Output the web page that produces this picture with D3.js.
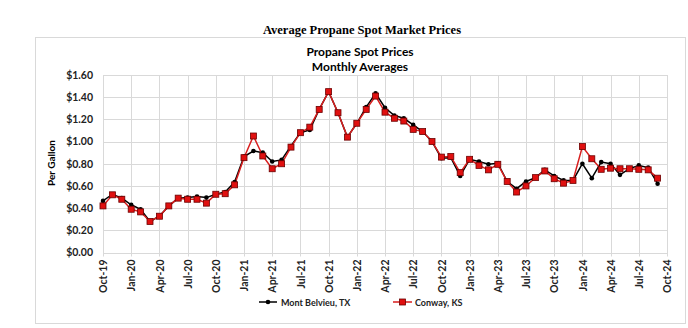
<!DOCTYPE html>
<html>
<head>
<meta charset="utf-8">
<script src="https://cdn.jsdelivr.net/npm/d3@7"></script>
<style>
  html, body { margin: 0; padding: 0; background: #fff; }
  svg { display: block; }
</style>
</head>
<body>
<svg id="chart" width="688" height="328"></svg>
<script>
// monthly averages, Oct-19 .. Sep-24 ($ per gallon)
const belvieu = [
  0.465, 0.525, 0.49, 0.43, 0.39, 0.28, 0.327, 0.42, 0.49, 0.495, 0.505, 0.495,
  0.525, 0.545, 0.635, 0.865, 0.915, 0.90, 0.82, 0.835, 0.96, 1.08, 1.105, 1.29,
  1.45, 1.26, 1.04, 1.165, 1.31, 1.435, 1.305, 1.235, 1.21, 1.15, 1.09, 1.0,
  0.85, 0.855, 0.69, 0.84, 0.82, 0.795, 0.805, 0.64, 0.575, 0.64, 0.675, 0.745,
  0.69, 0.65, 0.65, 0.80, 0.67, 0.815, 0.80, 0.70, 0.755, 0.785, 0.765, 0.62
];
const conway = [
  0.42, 0.52, 0.48, 0.39, 0.366, 0.28, 0.327, 0.42, 0.49, 0.48, 0.48, 0.445,
  0.525, 0.53, 0.61, 0.855, 1.05, 0.87, 0.755, 0.80, 0.95, 1.08, 1.13, 1.29,
  1.45, 1.26, 1.04, 1.165, 1.29, 1.41, 1.265, 1.21, 1.185, 1.11, 1.09, 1.0,
  0.86, 0.865, 0.72, 0.84, 0.785, 0.745, 0.795, 0.64, 0.545, 0.60, 0.675, 0.735,
  0.665, 0.625, 0.65, 0.955, 0.845, 0.75, 0.76, 0.755, 0.755, 0.75, 0.745, 0.67
];
const tickLabels = ["Oct-19", "Jan-20", "Apr-20", "Jul-20", "Oct-20", "Jan-21", "Apr-21",
  "Jul-21", "Oct-21", "Jan-22", "Apr-22", "Jul-22", "Oct-22", "Jan-23", "Apr-23",
  "Jul-23", "Oct-23", "Jan-24", "Apr-24", "Jul-24", "Oct-24"];
const yTicks = [0, 0.2, 0.4, 0.6, 0.8, 1.0, 1.2, 1.4, 1.6];

const svg = d3.select("#chart");
const font = "Lato, 'Open Sans', sans-serif";

const x = d3.scaleLinear().domain([0, 60]).range([103, 667]);
const y = d3.scaleLinear().domain([0, 1.6]).range([252.5, 75]);

// page title
svg.append("text")
  .attr("x", 362).attr("y", 34)
  .attr("text-anchor", "middle")
  .style("font-family", "'Liberation Serif', 'DejaVu Serif', serif")
  .style("font-weight", "bold")
  .style("font-size", "12.5px")
  .text("Average Propane Spot Market Prices");

// chart frame
svg.append("rect")
  .attr("x", 35.5).attr("y", 37.5)
  .attr("width", 650).attr("height", 286)
  .attr("fill", "#fff")
  .attr("stroke", "#d9d9d9");

svg.append("text")
  .attr("x", 360).attr("y", 56)
  .attr("text-anchor", "middle")
  .style("font-family", font).style("font-weight", "bold").style("font-size", "12px")
  .text("Propane Spot Prices");
svg.append("text")
  .attr("x", 360).attr("y", 71)
  .attr("text-anchor", "middle")
  .style("font-family", font).style("font-weight", "bold").style("font-size", "12px")
  .text("Monthly Averages");

// gridlines
const grid = svg.append("g").attr("stroke", "#d9d9d9").attr("stroke-width", 1);
yTicks.forEach(v => {
  grid.append("line")
    .attr("x1", x(0)).attr("x2", x(60))
    .attr("y1", Math.round(y(v)) + 0.5).attr("y2", Math.round(y(v)) + 0.5);
});
tickLabels.forEach((t, i) => {
  const xx = Math.round(x(i * 3)) + 0.5;
  grid.append("line")
    .attr("x1", xx).attr("x2", xx)
    .attr("y1", y(1.6)).attr("y2", y(0) + 4);
});

// y axis
const yAxis = svg.append("g")
  .attr("transform", `translate(${x(0)},0)`)
  .call(d3.axisLeft(y).tickValues(yTicks).tickFormat(d3.format("$.2f")).tickSize(0).tickPadding(10));
yAxis.select(".domain").remove();
yAxis.selectAll("text")
  .style("font-family", font).style("font-weight", "bold").style("font-size", "10.5px")
  .attr("fill", "#222");

// x axis labels
const xAxis = svg.append("g")
  .attr("transform", `translate(0,${y(0)})`)
  .call(d3.axisBottom(x).tickValues(d3.range(0, 61, 3))
    .tickFormat((d, i) => tickLabels[i]).tickSize(0));
xAxis.select(".domain").remove();
xAxis.selectAll("text")
  .attr("transform", "rotate(-90)")
  .attr("text-anchor", "end")
  .attr("x", -7).attr("y", 0).attr("dy", "0.35em")
  .style("font-family", font).style("font-weight", "bold").style("font-size", "10.5px")
  .attr("fill", "#222");

svg.append("text")
  .attr("transform", "translate(55,163) rotate(-90)")
  .attr("text-anchor", "middle")
  .style("font-family", font).style("font-weight", "bold").style("font-size", "10px")
  .text("Per Gallon");

// series
const line = d3.line().x((d, i) => x(i)).y(d => y(d));

svg.append("path").datum(belvieu)
  .attr("d", line).attr("fill", "none")
  .attr("stroke", "#000").attr("stroke-width", 1.5);
svg.append("path").datum(conway)
  .attr("d", line).attr("fill", "none")
  .attr("stroke", "#d81e1e").attr("stroke-width", 1.5);

svg.append("g").selectAll("circle").data(belvieu).join("circle")
  .attr("cx", (d, i) => x(i)).attr("cy", d => y(d))
  .attr("r", 2.3).attr("fill", "#000");

svg.append("g").selectAll("rect").data(conway).join("rect")
  .attr("x", (d, i) => x(i) - 3).attr("y", d => y(d) - 3)
  .attr("width", 6).attr("height", 6)
  .attr("fill", "#e01010").attr("stroke", "#6b0000").attr("stroke-width", 0.8);

// legend
const leg = svg.append("g");
leg.append("line").attr("x1", 259).attr("x2", 277).attr("y1", 302).attr("y2", 302)
  .attr("stroke", "#000").attr("stroke-width", 1.5);
leg.append("circle").attr("cx", 268).attr("cy", 302).attr("r", 2.3).attr("fill", "#000");
leg.append("text").attr("x", 281).attr("y", 305.5)
  .style("font-family", font).style("font-size", "9px").style("font-weight", "bold")
  .attr("fill", "#222").text("Mont Belvieu, TX");

leg.append("line").attr("x1", 393).attr("x2", 412).attr("y1", 302).attr("y2", 302)
  .attr("stroke", "#d81e1e").attr("stroke-width", 1.5);
leg.append("rect").attr("x", 399.5).attr("y", 299).attr("width", 6).attr("height", 6)
  .attr("fill", "#e01010").attr("stroke", "#6b0000").attr("stroke-width", 0.8);
leg.append("text").attr("x", 415).attr("y", 305.5)
  .style("font-family", font).style("font-size", "9px").style("font-weight", "bold")
  .attr("fill", "#222").text("Conway, KS");
</script>
</body>
</html>
